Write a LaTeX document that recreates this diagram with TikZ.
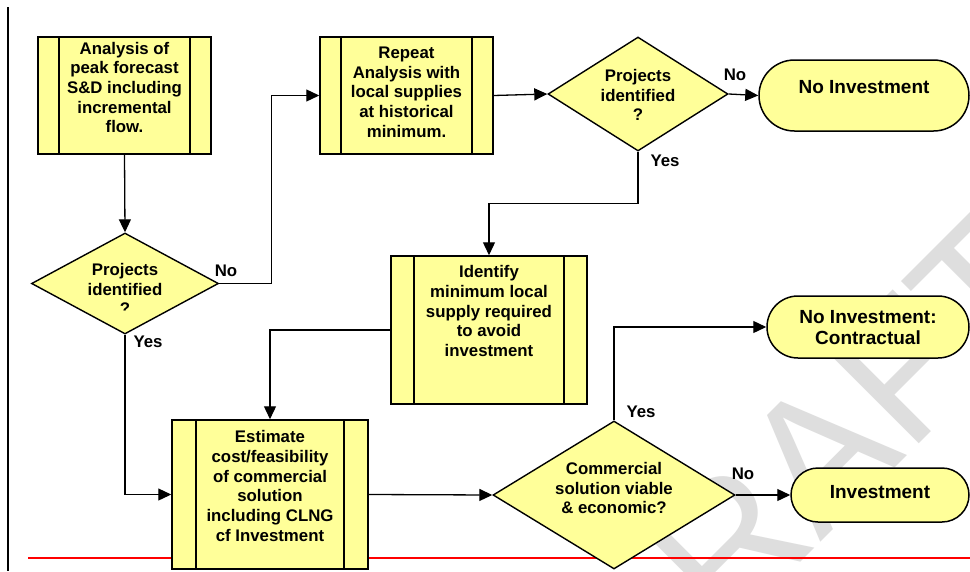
\documentclass[tikz,border=0pt]{standalone}
\usepackage{fontspec}
\setmainfont{Liberation Sans}
\usetikzlibrary{shapes.geometric,shapes.misc,arrows.meta}
\definecolor{boxyellow}{HTML}{FFFF99}
\definecolor{wmgray}{HTML}{DEDEDE}
\tikzset{
  base/.style={font=\bfseries\fontsize{16.8}{19.7}\selectfont},
  procbox/.style={rectangle, draw, fill=boxyellow, line width=1.5pt, inner sep=0pt,
    path picture={
      \draw[line width=1.5pt] ([xshift=#1]path picture bounding box.north west) -- ([xshift=#1]path picture bounding box.south west);
      \draw[line width=1.5pt] ([xshift=-#1]path picture bounding box.north east) -- ([xshift=-#1]path picture bounding box.south east);
    }},
  decision/.style={diamond, draw, fill=boxyellow, line width=1.4pt, inner sep=0pt},
  terminal/.style={rounded rectangle, draw, fill=boxyellow, line width=1.5pt, inner sep=0pt},
  boxtext/.style={base, align=center, inner sep=0pt},
  termtext/.style={font=\bfseries\fontsize{19}{21.5}\selectfont, align=center, inner sep=0pt},
  lbl/.style={base, inner sep=0pt},
  arr/.style={-{Triangle[length=13pt,width=12pt]}, line width=1.3pt},
}
\begin{document}
\begin{tikzpicture}[x=1pt,y=-1pt]
\useasboundingbox (0,0) rectangle (970,571);
\clip (0,0) rectangle (970,571);
\fill[white] (0,0) rectangle (970,571);

% watermark
\node[rotate=45, text=wmgray, font=\fontsize{185}{185}\selectfont, inner sep=0pt] (wm) at (805,468) {DRAFT};

% page rules
\coordinate (vtop) at (8,7);
\coordinate (vbot) at (8,571);
\draw[line width=2pt] (vtop) -- (vbot);
\coordinate (rl) at (28,558);
\coordinate (rr) at (970,558);
\draw[red, line width=1.6pt] (rl) -- (rr);

% process boxes
\node[procbox=21pt, minimum width=173pt, minimum height=117pt] (b1) at (124.5,95.5) {};
\node[boxtext] (b1t) at (124.5,87.5) {Analysis of\\peak forecast\\S\&D including\\incremental\\flow.};

\node[procbox=21pt, minimum width=173pt, minimum height=117pt] (b2) at (406.5,95.5) {};
\node[boxtext] (b2t) at (406.5,92) {Repeat\\Analysis with\\local supplies\\at historical\\minimum.};

\node[procbox=23pt, minimum width=196pt, minimum height=148pt] (b3) at (489,330) {};
\node[boxtext] (b3t) at (489,311) {Identify\\minimum local\\supply required\\to avoid\\investment};

\node[procbox=24pt, minimum width=196pt, minimum height=149pt] (b4) at (270,494.5) {};
\node[boxtext] (b4t) at (270,486) {Estimate\\cost/feasibility\\of commercial\\solution\\including CLNG\\cf Investment};

% decisions
\node[decision, minimum width=187pt, minimum height=101pt] (d1) at (125,283.5) {};
\begin{scope}
\clip (0,0) rectangle (970,310);
\node[boxtext] (d1t) at (125,289) {Projects\\identified\\?};
\end{scope}

\node[decision, minimum width=180pt, minimum height=114pt] (d2) at (638,94) {};
\node[boxtext] (d2t) at (638,95) {Projects\\identified\\?};

\node[decision, minimum width=242pt, minimum height=148pt] (d3) at (614,495) {};
\node[boxtext] (d3t) at (614,488) {Commercial\\solution viable\\\& economic?};

% terminals
\node[terminal, minimum width=210pt, minimum height=71pt] (t1) at (864,95.5) {};
\node[termtext] (t1t) at (864,87) {No Investment};

\node[terminal, minimum width=202pt, minimum height=62pt] (t2) at (868,327) {};
\node[termtext] (t2t) at (868,327.5) {No Investment:\\Contractual};

\node[terminal, minimum width=178pt, minimum height=54pt] (t3) at (880,495) {};
\node[termtext] (t3t) at (880,492) {Investment};

% connectors
\draw[arr] (b1.south) -- (d1.north);
\draw[arr] (d1.east) -- ++(52,0) |- (b2.west);
\draw[arr] (b2.east) -- (d2.west);
\draw[arr] (d2.east) -- (t1.west);
\draw[arr] (d2.south) -- ++(0,52) -| (b3.north);
\draw[arr] (b3.west) -| (b4.north);
\draw[arr] (d1.south) |- (b4.west);
\draw[arr] (b4.east) -- (d3.west);
\draw[arr] (d3.north) |- (t2.west);
\draw[arr] (d3.east) -- (t3.west);

% labels
\node[lbl] (l1) at (226,271) {No};
\node[lbl] (l2) at (148,342) {Yes};
\node[lbl] (l3) at (735,75) {No};
\node[lbl] (l4) at (665,161) {Yes};
\node[lbl] (l5) at (641,412) {Yes};
\node[lbl] (l6) at (743,474) {No};
\end{tikzpicture}
\end{document}
